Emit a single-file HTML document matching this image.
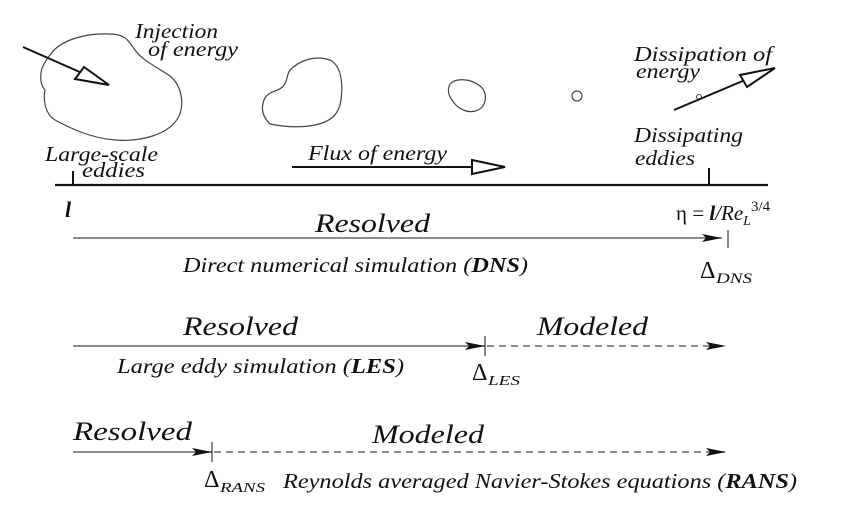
<!DOCTYPE html>
<html><head><meta charset="utf-8"><style>
html,body{margin:0;padding:0;background:#fff;}
svg{display:block;}
text{font-family:"Liberation Serif",serif;font-style:italic;fill:#111;}
</style></head><body>
<svg width="850" height="530" viewBox="0 0 850 530" xmlns="http://www.w3.org/2000/svg">
<defs>
<marker id="ah" viewBox="0 0 20 10" refX="20" refY="5" markerWidth="20" markerHeight="10" markerUnits="userSpaceOnUse" orient="auto">
<path d="M0,1 L20,5 L0,9 L4,5 Z" fill="#111"/>
</marker>
</defs>
<path d="M50,55 C60,40 85,33 110,34 C125,34 128,40 135,50 C142,60 155,66 170,76 C182,86 185,105 178,118 C168,135 140,142 115,140 C90,138 70,128 55,120 C45,114 43,100 45,90 C40,85 40,75 42,68 C45,62 47,58 50,55 Z" fill="none" stroke="#444" stroke-width="1.2"/>
<path d="M290,70 C300,60 315,55 330,60 C342,66 343,85 341,100 C339,115 330,122 315,125 C300,128 285,127 270,124 C264,118 260,110 264,100 C268,90 280,92 284,85 C288,80 286,76 290,70 Z" fill="none" stroke="#444" stroke-width="1.2"/>
<path d="M450,84 C455,78 470,78 480,86 C488,92 487,106 478,110 C470,114 460,110 455,104 C450,98 446,92 450,84 Z" fill="none" stroke="#444" stroke-width="1.2"/>
<circle cx="577" cy="96" r="5" fill="none" stroke="#444" stroke-width="1.2"/>
<circle cx="699" cy="97" r="2.5" fill="none" stroke="#444" stroke-width="1"/>
<line x1="23" y1="47" x2="82" y2="73" stroke="#111" stroke-width="2"/>
<path d="M109,85 L75,79 L84,67 Z" fill="#fff" stroke="#111" stroke-width="2"/>
<line x1="674" y1="110" x2="745" y2="80" stroke="#111" stroke-width="2"/>
<path d="M775,68 L747,87 L740,75 Z" fill="#fff" stroke="#111" stroke-width="2"/>
<line x1="292" y1="167" x2="472" y2="167" stroke="#111" stroke-width="2"/>
<path d="M505,167 L472,160 L472,174 Z" fill="#fff" stroke="#111" stroke-width="2"/>
<line x1="55" y1="185" x2="768" y2="185" stroke="#111" stroke-width="2.2"/>
<line x1="73" y1="171" x2="73" y2="185" stroke="#111" stroke-width="2"/>
<line x1="709" y1="168" x2="709" y2="185" stroke="#111" stroke-width="2"/>
<text x="135" y="38" font-size="21" textLength="83" lengthAdjust="spacingAndGlyphs">Injection</text>
<text x="148" y="56" font-size="21" textLength="90" lengthAdjust="spacingAndGlyphs">of energy</text>
<text x="45" y="161" font-size="21" textLength="113" lengthAdjust="spacingAndGlyphs">Large-scale</text>
<text x="82" y="177" font-size="21" textLength="63" lengthAdjust="spacingAndGlyphs">eddies</text>
<text x="308" y="160" font-size="21" textLength="139" lengthAdjust="spacingAndGlyphs">Flux of energy</text>
<text x="634" y="61" font-size="21" textLength="138" lengthAdjust="spacingAndGlyphs">Dissipation of</text>
<text x="636" y="78" font-size="21" textLength="64" lengthAdjust="spacingAndGlyphs">energy</text>
<text x="634" y="142" font-size="21" textLength="109" lengthAdjust="spacingAndGlyphs">Dissipating</text>
<text x="635" y="165" font-size="21" textLength="60" lengthAdjust="spacingAndGlyphs">eddies</text>
<text x="65" y="217" font-size="22" font-weight="bold">l</text>
<text x="676" y="220" font-size="21" style="font-style:normal">η = <tspan style="font-style:italic" font-weight="bold">l</tspan><tspan style="font-style:italic">/Re</tspan><tspan style="font-style:italic" font-size="14" dy="5">L</tspan><tspan font-size="15" dy="-14">3/4</tspan></text>
<line x1="73" y1="238" x2="722" y2="238" stroke="#666" stroke-width="1.5" marker-end="url(#ah)"/>
<line x1="728" y1="230" x2="728" y2="248" stroke="#111" stroke-width="1"/>
<text x="315" y="232" font-size="26" textLength="115" lengthAdjust="spacingAndGlyphs">Resolved</text>
<text x="183" y="272" font-size="21" textLength="345" lengthAdjust="spacingAndGlyphs">Direct numerical simulation (<tspan font-weight="bold">DNS</tspan>)</text>
<text x="700" y="278" font-size="24" style="font-style:normal">Δ</text><text x="716" y="283" font-size="15" textLength="36" lengthAdjust="spacingAndGlyphs">DNS</text>
<line x1="73" y1="346" x2="485" y2="346" stroke="#666" stroke-width="1.5" marker-end="url(#ah)"/>
<line x1="485" y1="336" x2="485" y2="356" stroke="#111" stroke-width="1"/>
<line x1="487" y1="346" x2="726" y2="346" stroke="#666" stroke-width="1.5" stroke-dasharray="7,5" marker-end="url(#ah)"/>
<text x="183" y="335" font-size="26" textLength="115" lengthAdjust="spacingAndGlyphs">Resolved</text>
<text x="537" y="335" font-size="26" textLength="111" lengthAdjust="spacingAndGlyphs">Modeled</text>
<text x="117" y="373" font-size="21" textLength="287" lengthAdjust="spacingAndGlyphs">Large eddy simulation (<tspan font-weight="bold">LES</tspan>)</text>
<text x="472" y="380" font-size="24" style="font-style:normal">Δ</text><text x="488" y="385" font-size="14" textLength="32" lengthAdjust="spacingAndGlyphs">LES</text>
<line x1="73" y1="452" x2="212" y2="452" stroke="#666" stroke-width="1.5" marker-end="url(#ah)"/>
<line x1="212" y1="442" x2="212" y2="462" stroke="#111" stroke-width="1"/>
<line x1="214" y1="452" x2="726" y2="452" stroke="#666" stroke-width="1.5" stroke-dasharray="7,5" marker-end="url(#ah)"/>
<text x="73" y="440" font-size="26" textLength="119" lengthAdjust="spacingAndGlyphs">Resolved</text>
<text x="372" y="443" font-size="26" textLength="112" lengthAdjust="spacingAndGlyphs">Modeled</text>
<text x="204" y="487" font-size="24" style="font-style:normal">Δ</text><text x="220" y="492" font-size="14" textLength="45" lengthAdjust="spacingAndGlyphs">RANS</text>
<text x="283" y="488" font-size="21" textLength="514" lengthAdjust="spacingAndGlyphs">Reynolds averaged Navier-Stokes equations (<tspan font-weight="bold">RANS</tspan>)</text>
</svg>
</body></html>
